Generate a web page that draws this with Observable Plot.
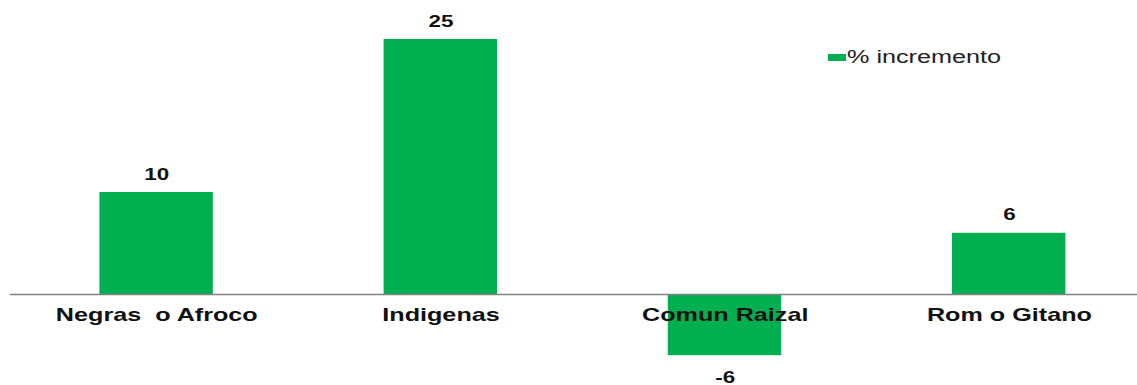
<!DOCTYPE html>
<html>
<head>
<meta charset="utf-8">
<script src="https://cdn.jsdelivr.net/npm/d3@7"></script>
<script src="https://cdn.jsdelivr.net/npm/@observablehq/plot@0.6"></script>
<style>
  html, body { margin: 0; padding: 0; background: #fff; }
  #wrap { position: relative; width: 1137px; height: 385px; overflow: hidden; background: #fff; }
  #legend { position: absolute; left: 828px; top: 47px; height: 20px; display: flex; align-items: center;
            font-family: "Liberation Sans", Arial, sans-serif; font-size: 18px; color: #222; white-space: nowrap; }
  #legend .sw { display: inline-block; width: 18px; height: 7px; margin-right: 1px; }
  #legend .tx { display: inline-block; transform: scaleX(1.4); transform-origin: left center; line-height: 20px; }
</style>
</head>
<body>
<div id="wrap"><div id="legend"></div></div>
<script>
// ---- data ----
const categories = ["Negras  o Afroco", "Indigenas", "Comun Raizal", "Rom o Gitano"];
const values = [10, 25, -6, 6];
const seriesName = "% incremento";
const seriesColor = "#00B050";

const data = categories.map((c, i) => ({category: c, value: values[i]}));

// The reference is horizontally stretched; draw at a narrower width and stretch the SVG.
const S = 1.4;
const W = 1137 / S, H = 385;

const chart = Plot.plot({
  width: W,
  height: H,
  marginLeft: 7,
  marginRight: 0,
  marginTop: 0,
  marginBottom: 0,
  x: {domain: categories, range: [8.6, 822.6], paddingInner: 0.6, paddingOuter: 0.3, axis: null},
  y: {domain: [0, 25], range: [294, 39], axis: null},
  style: {fontFamily: "'Liberation Sans', Arial, sans-serif", background: "white", color: "#111"},
  marks: [
    Plot.barY(data, {x: "category", y: "value", fill: seriesColor}),
    Plot.ruleY([0], {stroke: "#808080", strokeWidth: 1.5}),
    Plot.text(data.filter(d => d.value >= 0), {
      x: "category", y: "value", text: d => String(d.value),
      dy: -18, fontSize: 16, fontWeight: "bold", fill: "#111"
    }),
    Plot.text(data.filter(d => d.value < 0), {
      x: "category", y: "value", text: d => String(d.value),
      dy: 22, fontSize: 16, fontWeight: "bold", fill: "#111"
    }),
    Plot.text(data, {
      x: "category", y: () => 0, text: "category",
      dy: 21, fontSize: 18, fontWeight: "bold", fill: "#111"
    })
  ]
});

chart.setAttribute("width", 1137);
chart.setAttribute("height", 385);
chart.setAttribute("preserveAspectRatio", "none");
chart.style.width = "1137px";
chart.style.height = "385px";
chart.style.maxWidth = "none";
chart.style.display = "block";

const wrap = document.getElementById("wrap");
wrap.insertBefore(chart, wrap.firstChild);

const legend = document.getElementById("legend");
const sw = document.createElement("span");
sw.className = "sw";
sw.style.background = seriesColor;
const tx = document.createElement("span");
tx.className = "tx";
tx.textContent = seriesName;
legend.appendChild(sw);
legend.appendChild(tx);
</script>
</body>
</html>
